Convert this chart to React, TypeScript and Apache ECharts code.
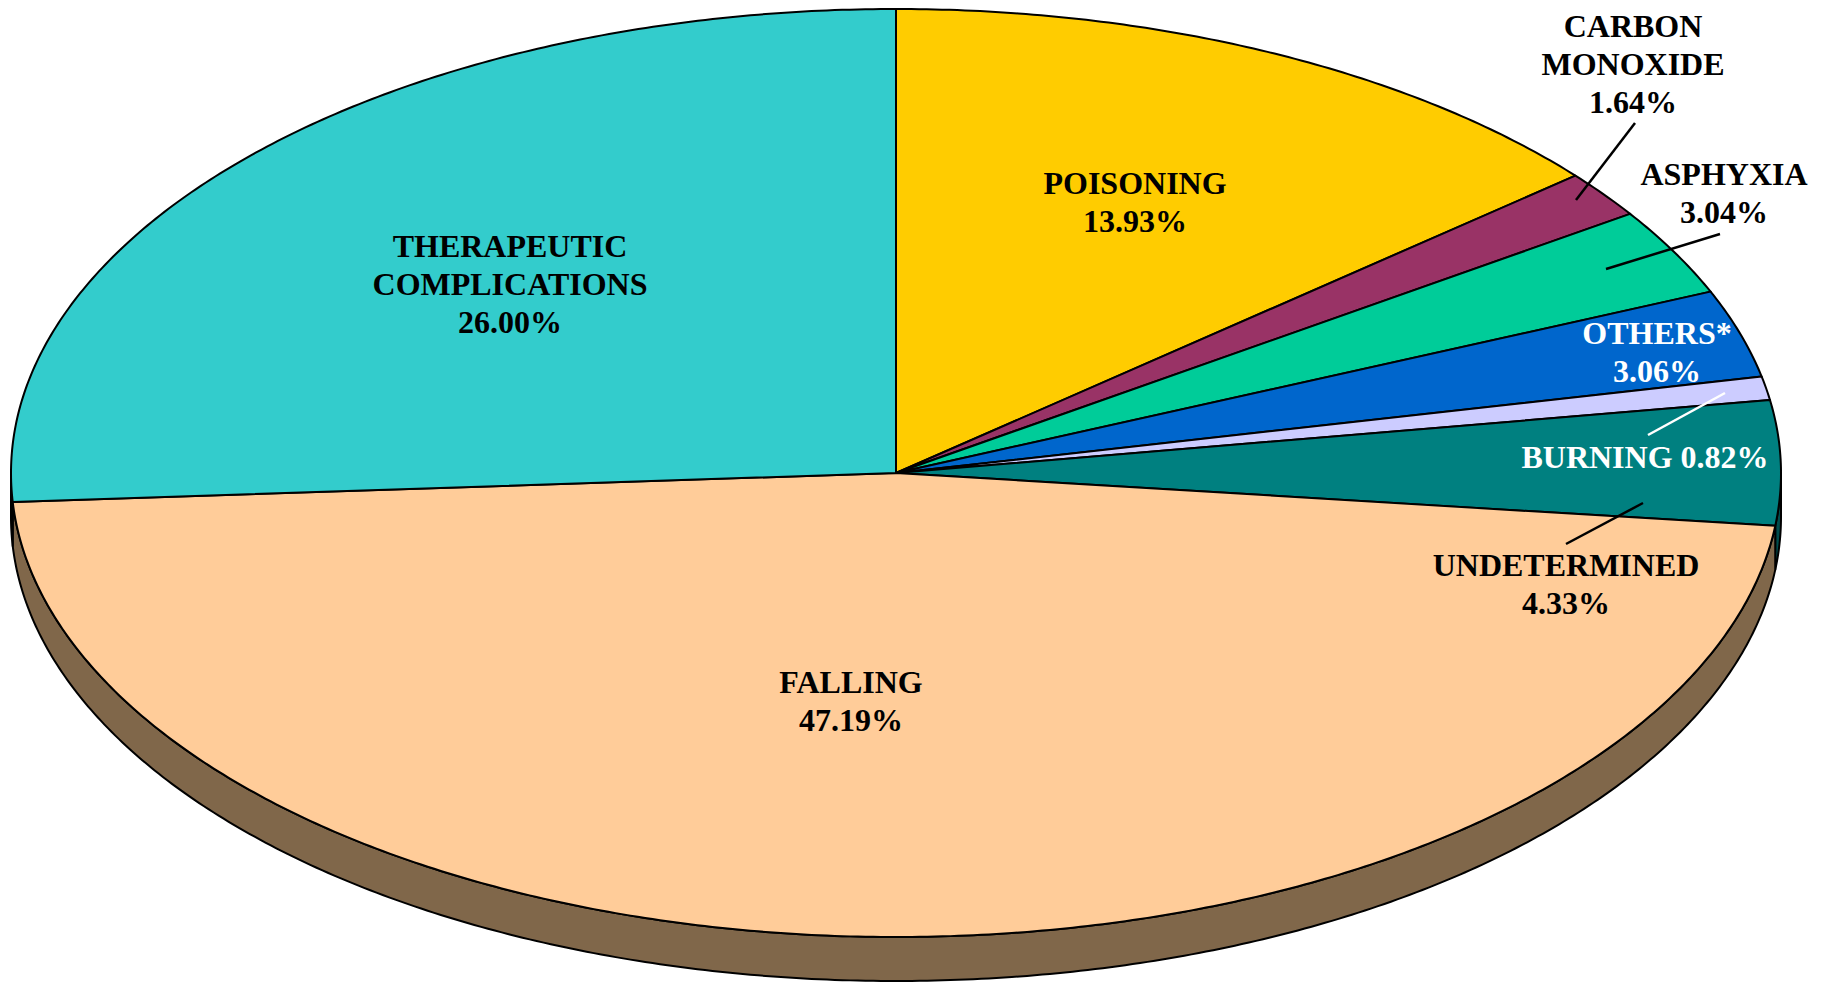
import React, { useEffect, useRef } from "react";
import * as echarts from "echarts";

// ---- data ----
const categories = [
  "POISONING",
  "CARBON\nMONOXIDE",
  "ASPHYXIA",
  "OTHERS*",
  "BURNING",
  "UNDETERMINED",
  "FALLING",
  "THERAPEUTIC\nCOMPLICATIONS",
];
const shares = [13.93, 1.64, 3.04, 3.06, 0.82, 4.33, 47.19, 26.0];

// ---- styles / layout ----
const faceColors = ["#FFCC00", "#993366", "#00CC99", "#0066CC", "#CCCCFF", "#008080", "#FFCC99", "#33CCCC"];
const sideColors = ["#806600", "#4D1A33", "#00664D", "#003366", "#66667F", "#004D4D", "#80674A", "#1A6666"];
const labelLayout = [
  { x: 1135, y: 202, color: "#000", sep: "\n" },
  { x: 1633, y: 64, color: "#000", sep: "\n" },
  { x: 1724, y: 193, color: "#000", sep: "\n" },
  { x: 1657, y: 352, color: "#fff", sep: "\n" },
  { x: 1645, y: 457, color: "#fff", sep: " " },
  { x: 1566, y: 584, color: "#000", sep: "\n" },
  { x: 851, y: 701, color: "#000", sep: "\n" },
  { x: 510, y: 284, color: "#000", sep: "\n" },
];
const leaders = [
  { x1: 1635, y1: 123, x2: 1576, y2: 200, color: "#000" },
  { x1: 1720, y1: 234, x2: 1606, y2: 269, color: "#000" },
  { x1: 1725, y1: 393, x2: 1648, y2: 435, color: "#fff" },
  { x1: 1643, y1: 503, x2: 1566, y2: 544, color: "#000" },
];
const CX = 896;
const CY = 473;
const RX = 885;
const RY = 464;
const DEPTH = 44;

const total = shares.reduce((a, b) => a + b, 0);
const starts: number[] = [];
{
  let acc = 0;
  for (const v of shares) {
    starts.push((acc / total) * 360);
    acc += v;
  }
}

function pt(deg: number, dy = 0): number[] {
  const r = (deg * Math.PI) / 180;
  return [CX + RX * Math.sin(r), CY - RY * Math.cos(r) + dy];
}

function arcPoints(a: number, b: number, dy = 0): number[][] {
  const pts: number[][] = [];
  const n = Math.max(2, Math.ceil((b - a) / 0.5));
  for (let i = 0; i <= n; i++) pts.push(pt(a + ((b - a) * i) / n, dy));
  return pts;
}

export default function App() {
  const ref = useRef<HTMLDivElement>(null);
  useEffect(() => {
    document.body.style.margin = "0";
    if (!ref.current) return;
    const chart = echarts.init(ref.current, null, { renderer: "svg" });
    const data = shares.map((v, i) => ({ name: categories[i], value: v }));

    const option: any = {
      animation: false,
      backgroundColor: "#ffffff",
      series: [
        {
          type: "custom",
          coordinateSystem: "none",
          z: 1,
          silent: true,
          data,
          renderItem: (params: any, api: any) => {
            const i = params.dataIndex;
            const a = starts[i];
            const b = a + (api.value(0) / total) * 360;
            const lo = Math.max(a, 90);
            const hi = Math.min(b, 270);
            if (hi <= lo) return { type: "group", children: [] };
            const top = arcPoints(lo, hi, 0);
            const bottom = arcPoints(lo, hi, DEPTH).reverse();
            return {
              type: "polygon",
              shape: { points: top.concat(bottom) },
              style: { fill: sideColors[i], stroke: "#000", lineWidth: 2, lineJoin: "round" },
            };
          },
        },
        {
          type: "custom",
          coordinateSystem: "none",
          z: 2,
          data,
          renderItem: (params: any, api: any) => {
            const i = params.dataIndex;
            const a = starts[i];
            const b = a + (api.value(0) / total) * 360;
            const pts = [[CX, CY]].concat(arcPoints(a, b));
            const lay = labelLayout[i];
            const txt = categories[i] + lay.sep + api.value(0).toFixed(2) + "%";
            return {
              type: "group",
              children: [
                {
                  type: "polygon",
                  shape: { points: pts },
                  style: { fill: faceColors[i], stroke: "#000", lineWidth: 2, lineJoin: "round" },
                },
                {
                  type: "text",
                  z2: 10,
                  x: lay.x,
                  y: lay.y,
                  style: {
                    text: txt,
                    fill: lay.color,
                    fontFamily: "'Liberation Serif', 'Times New Roman', serif",
                    fontWeight: "bold",
                    fontSize: 32,
                    lineHeight: 38,
                    align: "center",
                    verticalAlign: "middle",
                  },
                },
              ],
            };
          },
        },
      ],
      graphic: leaders.map((l) => ({
        type: "line",
        z: 10,
        shape: { x1: l.x1, y1: l.y1, x2: l.x2, y2: l.y2 },
        style: { stroke: l.color, lineWidth: 2.5 },
      })),
    };
    chart.setOption(option);
    return () => chart.dispose();
  }, []);
  return (
    <div
      ref={ref}
      style={{ position: "fixed", left: 0, top: 0, width: 1821, height: 984, background: "#fff" }}
    />
  );
}
